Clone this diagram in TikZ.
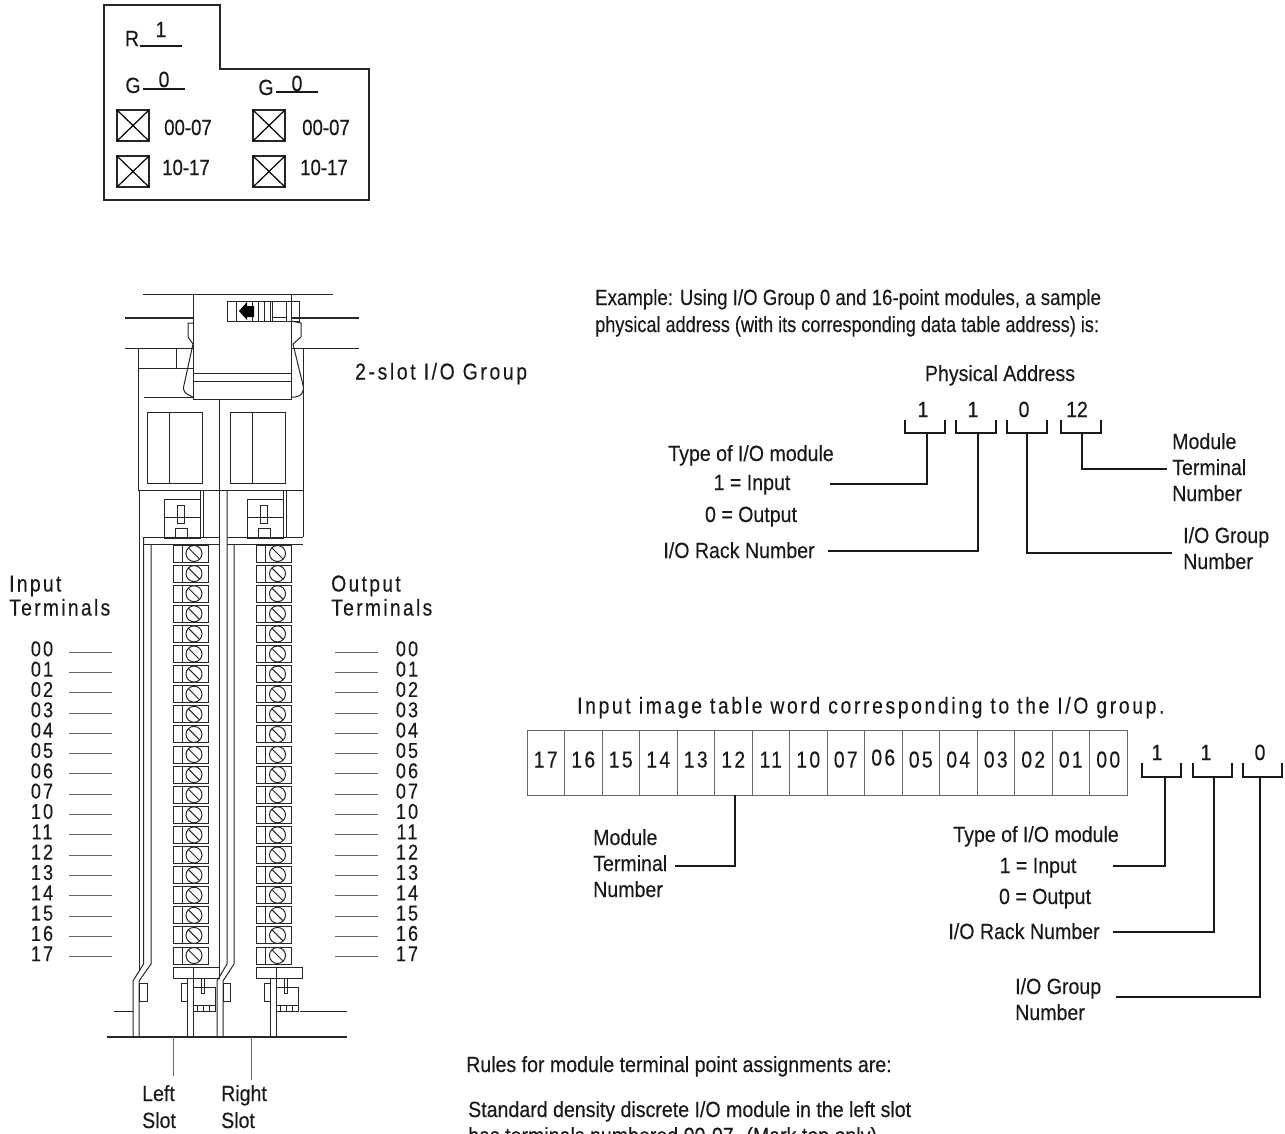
\documentclass[tikz,border=0pt]{standalone}
\usepackage{graphicx}
\usepackage{fontspec}
\setmainfont{Liberation Sans}[FakeStretch=0.89,FakeBold=0.25]
\newfontfamily\spacedfont{Liberation Sans}[FakeStretch=0.84,LetterSpace=10,FakeBold=0.25]
\newfontfamily\widefont{Liberation Sans}[FakeStretch=0.84,LetterSpace=11.5,FakeBold=0.25]
\begin{document}
\begin{tikzpicture}[x=1pt,y=-1pt,
  lbl/.style={font=\fontsize{22}{22}\selectfont,inner sep=0pt,text=black!90,text height=14,text depth=0},
  lbll/.style={lbl,anchor=west},
  spc/.style={font=\fontsize{23}{23}\spacedfont,inner sep=0pt,text=black!90,text height=15,text depth=0},
  spcl/.style={spc,anchor=west},
  col/.style={font=\fontsize{21.5}{21.5}\spacedfont,inner sep=0pt,text=black!90,text height=14.5,text depth=0},
  wdl/.style={font=\fontsize{23}{23}\widefont,inner sep=0pt,text=black!90,text height=15,text depth=0,anchor=west},
  body/.style={line width=1pt,draw=black!85},
  heavy/.style={line width=1.9pt,draw=black!85},
  conn/.style={line width=1.6pt,draw=black!90},
  grid/.style={line width=1pt,draw=black!60}]
\useasboundingbox (0,0) rectangle (1285,1133);
% ---- top legend box
\draw[heavy] (104,5) -- (220,5) -- (220,69) -- (369,69) -- (369,200) -- (104,200) -- cycle;
\node[lbl] (r) at (132,39) {R};
\node[lbl] (rv) at (161,30) {1};
\draw[conn] (140,46) -- (182,46);
\node[lbl] (g1) at (133,86) {G};
\node[lbl] (g1v) at (164,80) {0};
\draw[conn] (143,89) -- (185,89);
\node[lbl] (g2) at (266,88) {G};
\node[lbl] (g2v) at (297,84) {0};
\draw[conn] (276,92) -- (318,92);
\foreach \x/\y in {117/110,117/156,253/110,253/156}{
  \draw[heavy] (\x,\y) rectangle ++(32,31);
  \draw[line width=1.2pt] (\x,\y) -- ++(32,31) (\x+32,\y) -- ++(-32,31);
}
\node[lbl] (a1) at (188,128) {\scalebox{.95}[1]{00-07}};
\node[lbl] (a2) at (186,168) {\scalebox{.95}[1]{10-17}};
\node[lbl] (a3) at (326,128) {\scalebox{.95}[1]{00-07}};
\node[lbl] (a4) at (324,168) {\scalebox{.95}[1]{10-17}};
% ---- module drawing
\begin{scope}[body]
\draw (143,294) -- (333,294);
\draw[line width=1.6pt] (125,318) -- (193,318) (291,318) -- (359,318);
\draw (125,348) -- (193,348) (291,348) -- (359,348);
\draw (193,294) rectangle (291,399);
\draw (193,373) -- (291,373) (193,381) -- (291,381);
\draw (227,301) rectangle (299,321);
\foreach \x in {236,252,258,264,270,272,286}{\draw (\x,301) -- (\x,321);}
\draw (272,317) -- (286,317);
\fill[black] (239,311) -- (247,302) -- (247,306) -- (254,306) -- (254,317) -- (247,317) -- (247,320) -- cycle;
\draw (138,348) -- (138,490) (303,348) -- (303,537);
\draw (138,368) -- (193,368) (176,348) -- (176,368) (144,397) -- (193,397);
\draw (219,399) -- (219,490);
\draw (291,321) -- (301,323) -- (301,337) -- (293,344) -- (303,385) .. controls (305,392) and (301,398) .. (291,397);
\draw (193,323) -- (188,323) -- (188,337) -- (193,344) -- (184,385) .. controls (182,392) and (186,394) .. (193,397);
% windows
\foreach \x in {147,230}{
  \draw (\x,412) rectangle ++(55,71);
  \draw (\x+22,412) -- ++(0,71);
}
\draw (138,490) -- (303,490);
% rails and clips, both slots
\foreach \d in {0,83.5}{
  \begin{scope}[xshift=\d pt]
  \draw (200,490) -- (200,499) (203,490) -- (203,537);
  \draw (164,499) rectangle (200,538);
  \draw (164,517) -- (200,517);
  \draw (177,505) rectangle (184,523);
  \draw (175,538) -- (175,528) -- (187,528) -- (187,538);
  \draw (143,537) -- (219,537) (143,544) -- (219,544);
  \foreach \k in {0,...,20}{
    \pgfmathsetmacro{\yy}{545+20.1*\k}
    \draw (173,\yy) rectangle (208,\yy+17);
    \draw (182,\yy) -- (182,\yy+17);
    \draw (194,\yy+8.5) circle (8);
    \draw (188.5,\yy+3) -- (199.5,\yy+14);
  }
  \draw (173,967) rectangle (219,978);
  \draw (187,978) -- (187,1037) (193,967) -- (193,1037);
  \draw (181,983) rectangle (187,1001);
  \draw (193,987) -- (215,987) -- (215,1005) -- (193,1005);
  \draw (201,978) -- (201,993) -- (204,993) -- (204,978);
  \draw (193,1005) -- (193,1011) -- (215,1011) -- (215,1005);
  \foreach \c in {197,203,209}{\draw (\c,1005) -- (\c,1011);}
  \end{scope}
}
% rails left
\draw (139.5,490) -- (139.5,971);
\draw (143.5,537) -- (143.5,964) -- (133,981) -- (133,1037);
\draw (151,544) -- (151,964) -- (139,981) -- (139,1037);
\draw (139,983) rectangle (147,1001);
% rails middle
\draw (219,490) -- (219,971);
\draw (227,490) -- (227,964) -- (217,981) -- (217,1037);
\draw (234,544) -- (234,964) -- (223,981) -- (223,1037);
\draw (223,983) rectangle (230,1001);
\draw (114,1011) -- (133,1011) (300,1011) -- (347,1011);
\draw[line width=1.3pt] (107,1037) -- (347,1037);
\end{scope}
\coordinate (ls) at (173,1037);
\coordinate (lsEnd) at (173,1076);
\coordinate (rs) at (251,1037);
\coordinate (rsEnd) at (251,1080);
\draw[grid] (ls) -- (lsEnd) (rs) -- (rsEnd);
\node[lbll] (left) at (142,1094) {Left};
\node[lbll] (lslot) at (142,1121) {Slot};
\node[lbll] (right) at (221,1094) {Right};
\node[lbll] (rslot) at (221,1121) {Slot};
\node[wdl] (gr) at (355,372) {2-slot I/O Group};
\node[spcl] (inp) at (9,584) {Input};
\node[spcl] (inp2) at (9,608) {Terminals};
\node[spcl] (outp) at (331,584) {Output};
\node[spcl] (outp2) at (331,608) {Terminals};
\foreach \n [count=\i from 0] in {00,01,02,03,04,05,06,07,10,11,12,13,14,15,16,17}{
  \pgfmathsetmacro{\yy}{649+20.33*\i}
  \node[col] (il\i) at (42,\yy) {\n};
  \node[col] (ol\i) at (407,\yy) {\n};
  \coordinate (ila\i) at (69,\yy+3);
  \coordinate (ilb\i) at (112,\yy+3);
  \coordinate (ola\i) at (335,\yy+3);
  \coordinate (olb\i) at (378,\yy+3);
  \draw[grid] (ila\i) -- (ilb\i) (ola\i) -- (olb\i);
}
% ---- physical address
\node[lbll] (ex1) at (595,298) {\scalebox{.953}[1]{Example: Using I/O Group 0 and 16-point modules, a sample}};
\node[lbll] (ex2) at (595,325) {\scalebox{.924}[1]{physical address (with its corresponding data table address) is:}};
\node[lbl] (pa) at (1000,374) {Physical Address};
\node[lbl] (pa1) at (923,410) {1};
\node[lbl] (pa2) at (973,410) {1};
\node[lbl] (pa3) at (1024,410) {0};
\node[lbl] (pa4) at (1077,410) {12};
\foreach \x in {905,956,1007,1061}{\draw[conn] (\x,420) -- (\x,433) -- (\x+40,433) -- (\x+40,420);}
\node[lbl] (t1) at (751,454) {Type of I/O module};
\node[lbl] (t2) at (752,483) {1 = Input};
\node[lbl] (t3) at (751,515) {0 = Output};
\node[lbl] (t4) at (739,551) {I/O Rack Number};
\node[lbll] (m1) at (1172,442) {Module};
\node[lbll] (m2) at (1172,468) {Terminal};
\node[lbll] (m3) at (1172,494) {Number};
\node[lbll] (g1t) at (1183,536) {I/O Group};
\node[lbll] (g2t) at (1183,562) {Number};
\coordinate (pb1) at (927,433); \coordinate (pe1) at (830,484);
\coordinate (pb2) at (978,433); \coordinate (pe2) at (828,551);
\coordinate (pb3) at (1027,433); \coordinate (pe3) at (1172,553);
\coordinate (pb4) at (1082,433); \coordinate (pe4) at (1167,469);
\draw[conn] (pb1) |- (pe1);
\draw[conn] (pb2) |- (pe2);
\draw[conn] (pb3) |- (pe3);
\draw[conn] (pb4) |- (pe4);
% ---- image table
\node[wdl] (it) at (577,706) {Input image table word corresponding to the I/O group.};
\draw[grid] (527,730) rectangle (1127,795);
\foreach \n/\ty [count=\i from 0] in {17/760,16/760,15/760,14/760,13/760,12/760,11/760,10/760,07/760,06/758,05/760,04/760,03/760,02/760,01/760,00/760}{
  \pgfmathsetmacro{\xx}{527+37.5*\i}
  \ifnum\i>0 \draw[grid] (\xx,730) -- (\xx,795); \fi
  \node[spc] (c\i) at (\xx+18.75,\ty) {\n};
}
\node[lbl] (b1) at (1157,753) {1};
\node[lbl] (b2) at (1206,753) {1};
\node[lbl] (b3) at (1260,753) {0};
\foreach \x in {1142,1193,1243}{\draw[conn] (\x,763) -- (\x,777) -- (\x+39,777) -- (\x+39,763);}
\node[lbll] (mm1) at (593,838) {Module};
\node[lbll] (mm2) at (593,864) {Terminal};
\node[lbll] (mm3) at (593,890) {Number};
\node[lbl] (tt1) at (1036,835) {Type of I/O module};
\node[lbl] (tt2) at (1038,866) {1 = Input};
\node[lbl] (tt3) at (1045,897) {0 = Output};
\node[lbl] (tt4) at (1024,932) {I/O Rack Number};
\node[lbll] (gg1) at (1015,987) {I/O Group};
\node[lbll] (gg2) at (1015,1013) {Number};
\coordinate (cb) at (735,795); \coordinate (ce) at (675,866);
\coordinate (qb1) at (1165,777); \coordinate (qe1) at (1113,866);
\coordinate (qb2) at (1214,777); \coordinate (qe2) at (1113,932);
\coordinate (qb3) at (1260,777); \coordinate (qe3) at (1116,997);
\draw[conn] (cb) |- (ce);
\draw[conn] (qb1) |- (qe1);
\draw[conn] (qb2) |- (qe2);
\draw[conn] (qb3) |- (qe3);
% ---- rules
\node[lbll] (ru) at (466,1065) {Rules for module terminal point assignments are:};
\node[lbll] (ru2) at (468,1110) {Standard density discrete I/O module in the left slot};
\node[lbll] (ru3) at (468,1136) {has terminals numbered 00-07. (Mark top only)};
\end{tikzpicture}
\end{document}
